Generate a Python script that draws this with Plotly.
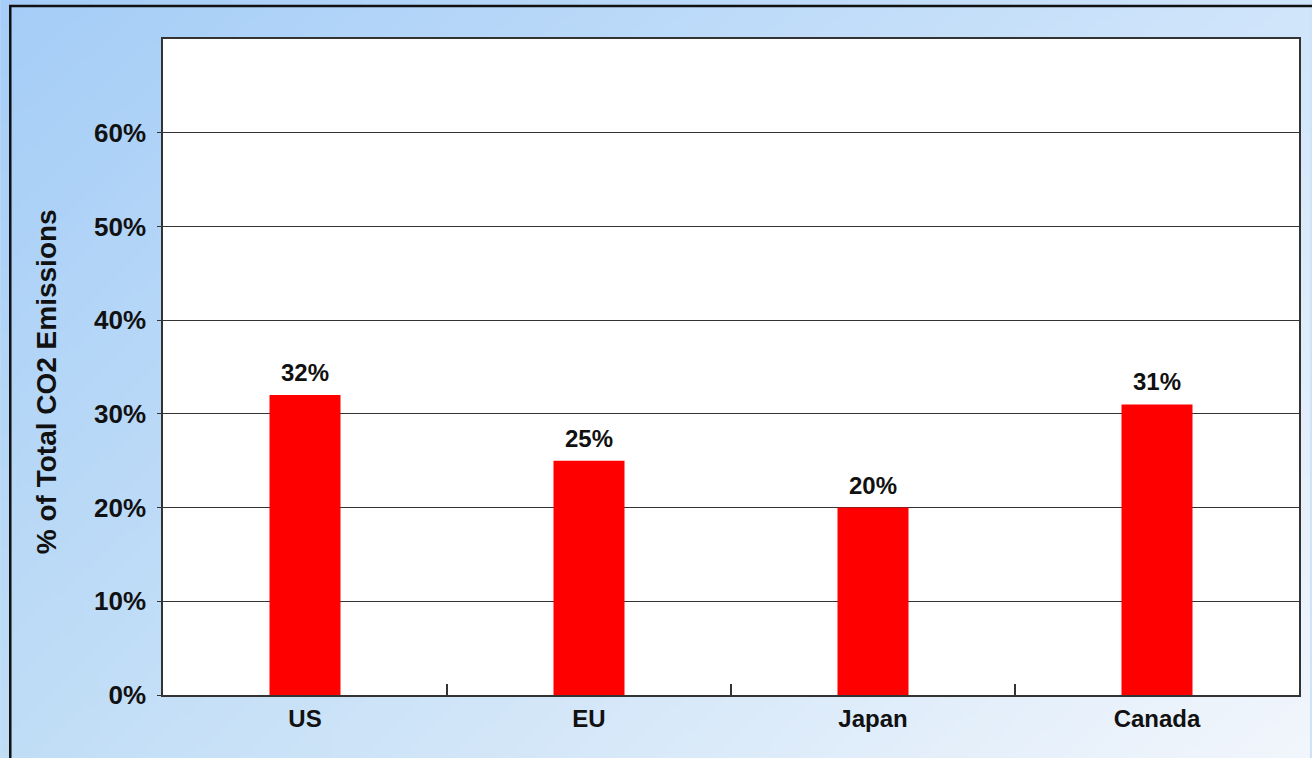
import base64, struct, zlib
import plotly.graph_objects as go

categories = ["US", "EU", "Japan", "Canada"]
values = [32, 25, 20, 31]
value_labels = ["32%", "25%", "20%", "31%"]
y_ticks = [0, 10, 20, 30, 40, 50, 60]
y_tick_labels = ["0%", "10%", "20%", "30%", "40%", "50%", "60%"]

W, H = 1312, 758
L, R, T, B = 163, 11, 39, 63
PW, PH = W - L - R, H - T - B


def gradient_png(w, h):
    tl, tr, bl, br = (165, 205, 247), (208, 229, 250), (192, 221, 246), (242, 246, 252)
    rows = []
    for j in range(h):
        fy = j / (h - 1)
        row = bytearray([0])
        for i in range(w):
            fx = i / (w - 1)
            px = []
            for k in range(3):
                top = tl[k] * (1 - fx) + tr[k] * fx
                bot = bl[k] * (1 - fx) + br[k] * fx
                px.append(int(round(top * (1 - fy) + bot * fy)))
            row.extend(px)
        rows.append(bytes(row))
    raw = b"".join(rows)

    def chunk(tag, data):
        c = struct.pack(">I", len(data)) + tag + data
        return c + struct.pack(">I", zlib.crc32(tag + data) & 0xFFFFFFFF)

    png = b"\x89PNG\r\n\x1a\n"
    png += chunk(b"IHDR", struct.pack(">IIBBBBB", w, h, 8, 2, 0, 0, 0))
    png += chunk(b"IDAT", zlib.compress(raw, 9))
    png += chunk(b"IEND", b"")
    return "data:image/png;base64," + base64.b64encode(png).decode()


fig = go.Figure()
fig.add_trace(go.Bar(
    x=categories, y=values,
    marker=dict(color="#ff0000", line=dict(width=0)),
    hoverinfo="x+y",
))

annotations = [dict(
    text="% of Total CO2 Emissions",
    xref="paper", yref="paper",
    x=(46 - L) / PW, y=(PH + T - 382) / PH,
    xanchor="center", yanchor="middle",
    textangle=-90, showarrow=False,
    font=dict(family="Liberation Sans", size=28, color="#111111", weight="bold"),
)]
for c, v, lab in zip(categories, values, value_labels):
    annotations.append(dict(
        x=c, y=v, xref="x", yref="y", text=lab, showarrow=False,
        yanchor="bottom", yshift=7,
        font=dict(family="Liberation Sans", size=24, color="#111111", weight="bold"),
    ))

fig.update_layout(
    width=W, height=H,
    margin=dict(l=L, r=R, t=T, b=B),
    paper_bgcolor="#cfe3f8",
    plot_bgcolor="#ffffff",
    bargap=0.75,
    showlegend=False,
    font=dict(family="Liberation Sans", color="#111111"),
    images=[dict(
        source=gradient_png(164, 95),
        xref="paper", yref="paper",
        x=-L / PW, y=1 + T / PH,
        sizex=W / PW, sizey=H / PH,
        xanchor="left", yanchor="top",
        sizing="stretch", layer="below",
    )],
    shapes=[
        dict(
            type="rect", xref="paper", yref="paper",
            x0=(10 - L) / PW, x1=(W + 20 - L) / PW,
            y0=-(H + 20 - PH - T) / PH, y1=1 + (T - 6) / PH,
            line=dict(color="#111111", width=2.5),
            layer="below",
        ),
        dict(
            type="rect", xref="paper", yref="paper",
            x0=0, x1=1, y0=0, y1=1,
            fillcolor="#ffffff", line=dict(width=0),
            layer="below",
        ),
    ],
    annotations=annotations,
)

fig.update_xaxes(
    tickson="boundaries", ticks="inside", ticklen=11, tickwidth=1.5, tickcolor="#333333",
    showline=True, linecolor="#333333", linewidth=1.5, mirror=True,
    tickfont=dict(family="Liberation Sans", size=24, color="#111111", weight="bold"),
    ticklabelstandoff=1,
    showgrid=False,
)
fig.update_yaxes(
    range=[0, 70], tickvals=y_ticks, ticktext=y_tick_labels,
    ticks="outside", ticklen=4, tickcolor="#333333",
    showline=True, linecolor="#333333", linewidth=1.5, mirror=True,
    showgrid=True, gridcolor="#333333", gridwidth=1,
    zeroline=False, layer="above traces",
    tickfont=dict(family="Liberation Sans", size=26, color="#111111", weight="bold"),
    ticklabelstandoff=6,
)

fig.write_html("out.html")
